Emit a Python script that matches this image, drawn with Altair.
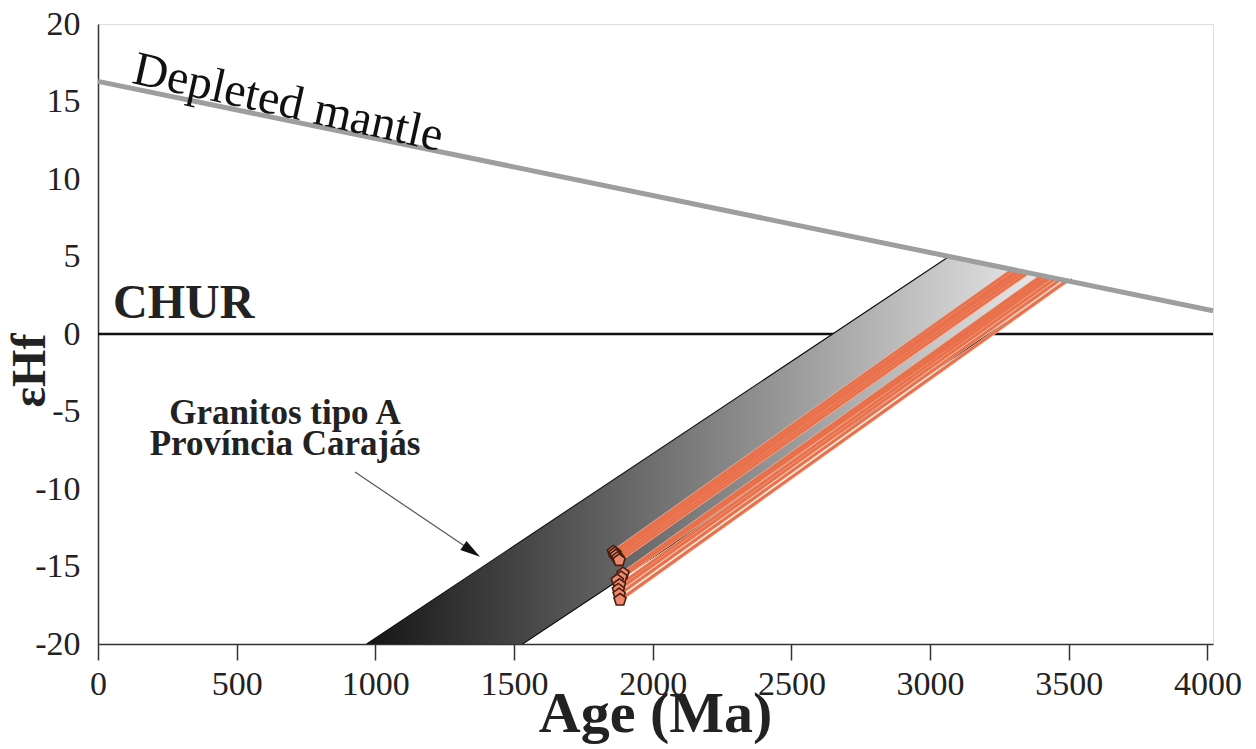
import altair as alt
import pandas as pd

# ---------------- data ----------------
# Depleted mantle evolution line
dm_age = [0, 4020]
dm_ehf = [16.3, 1.5]

# CHUR reference line
chur_age = [0, 4020]
chur_ehf = [0, 0]

# Envelope of A-type granites, Carajás Province (gradient band)
band_age = [968.6, 1531, 3064, 3511]
band_upper = [-20, -13.33, 4.95, 3.55]
band_lower = [-20, -20, -1.87, 3.55]

# Band outline edges
edge_id = ["upper", "upper", "lower", "lower"]
edge_age = [968.6, 3064, 1531, 3511]
edge_ehf = [-20, 4.95, -20, 3.55]

# Zircon samples: measured eHf(t) and model-age projection to depleted mantle
sample_id = ["U1", "U2", "U3", "U4", "U5", "L1", "L2", "L3", "L4", "L5", "L6", "L7"]
sample_age = [1858, 1864, 1868, 1874, 1879, 1893, 1886, 1872, 1880, 1876, 1879, 1882]
sample_ehf = [-14.05, -14.15, -14.3, -14.45, -14.6, -15.45, -15.7, -15.9, -16.2, -16.5, -16.8, -17.15]
tdm_age = [3298, 3313, 3324, 3338, 3353, 3403, 3412, 3425, 3436, 3452, 3470, 3493]
tdm_ehf = [4.16, 4.1, 4.06, 4.01, 3.96, 3.77, 3.74, 3.69, 3.65, 3.59, 3.53, 3.44]

# Tick values
x_ticks = [0, 500, 1000, 1500, 2000, 2500, 3000, 3500, 4000]
y_ticks = [-20, -15, -10, -5, 0, 5, 10, 15, 20]

# Annotations
dm_label = "Depleted mantle"
chur_label = "CHUR"
granite_line1 = "Granitos tipo A"
granite_line2 = "Província Carajás"

# ---------------- tables built from the arrays ----------------
dm_df = pd.DataFrame({"age": dm_age, "ehf": dm_ehf})
chur_df = pd.DataFrame({"age": chur_age, "ehf": chur_ehf})
band_df = pd.DataFrame({"age": band_age, "upper": band_upper, "lower": band_lower})
edge_df = pd.DataFrame({"edge": edge_id, "age": edge_age, "ehf": edge_ehf})

rows = []
for sid, a0, e0, a1, e1 in zip(sample_id, sample_age, sample_ehf, tdm_age, tdm_ehf):
    rows.append({"id": sid, "age": a0, "ehf": e0, "o": 0})
    rows.append({"id": sid, "age": a1, "ehf": e1, "o": 1})
lines_df = pd.DataFrame(rows)
pts_df = pd.DataFrame({"id": sample_id, "age": sample_age, "ehf": sample_ehf})

FONT = "Liberation Serif"
xs = alt.Scale(domain=[0, 4020], nice=False, zero=False)
ys = alt.Scale(domain=[-20, 20], nice=False, zero=False)

x_axis = alt.Axis(
    values=x_ticks, title="Age (Ma)", grid=False, labelFlush=False,
    labelExpr="'' + datum.value",
    labelFont=FONT, labelFontSize=34, labelColor="#222", labelPadding=7,
    tickSize=16, tickColor="#333", tickWidth=1.5,
    domainColor="#333", domainWidth=1.5,
    titleFont=FONT, titleFontSize=58, titleFontWeight="bold", titleColor="#222",
    titleX=557, titleY=87, titleAlign="center", titleBaseline="alphabetic",
)
y_axis = alt.Axis(
    values=y_ticks, title="εHf", grid=False, labelFlush=False, ticks=False,
    labelExpr="'' + datum.value",
    labelFont=FONT, labelFontSize=34, labelColor="#222", labelPadding=18,
    domainColor="#333", domainWidth=1.5,
    titleFont=FONT, titleFontSize=48, titleFontWeight="bold", titleColor="#222",
    titleAngle=270, titleX=-68, titleY=346, titleAlign="center", titleBaseline="middle",
)

X = lambda: alt.X("age:Q", scale=xs, axis=x_axis)
Y = lambda: alt.Y("ehf:Q", scale=ys, axis=y_axis)

chur = alt.Chart(chur_df).mark_line(color="#111", strokeWidth=2.5).encode(x=X(), y=Y())

gradient = {
    "gradient": "linear", "x1": 0, "x2": 1, "y1": 0, "y2": 0,
    "stops": [{"offset": 0, "color": "#151515"}, {"offset": 1, "color": "#f2f2f2"}],
}
band = alt.Chart(band_df).mark_area(color=gradient).encode(
    x=alt.X("age:Q", scale=xs, axis=x_axis),
    y=alt.Y("upper:Q", scale=ys, axis=y_axis),
    y2="lower:Q",
)
edges = alt.Chart(edge_df).mark_line(color="#111", strokeWidth=1.2).encode(
    x=X(), y=Y(), detail="edge:N"
)

red_under = alt.Chart(lines_df).mark_line(color="#f4b59c", strokeWidth=4).encode(
    x=X(), y=Y(), detail="id:N", order="o:Q"
)
red = alt.Chart(lines_df).mark_line(color="#e8704b", strokeWidth=2.8).encode(
    x=X(), y=Y(), detail="id:N", order="o:Q"
)

dm = alt.Chart(dm_df).mark_line(color="#9e9e9e", strokeWidth=5).encode(x=X(), y=Y())

pentagon = "M0,-1 L0.951,-0.309 L0.588,0.809 L-0.588,0.809 L-0.951,-0.309 Z"
pts = alt.Chart(pts_df).mark_point(
    shape=pentagon, filled=True, fill="#ee8a6c", stroke="#4a1e12", strokeWidth=1.6,
    size=160, opacity=1,
).encode(x=X(), y=Y())

# Text annotations (pixel anchors inside the plot area)
dm_txt = alt.Chart(pd.DataFrame({"t": [dm_label]})).mark_text(
    font=FONT, fontSize=48, angle=12.5, align="center", baseline="alphabetic", color="#111"
).encode(x=alt.value(187), y=alt.value(93), text="t:N")

chur_txt = alt.Chart(pd.DataFrame({"t": [chur_label]})).mark_text(
    font=FONT, fontSize=48, fontWeight="bold", align="left", baseline="alphabetic", color="#222"
).encode(x=alt.value(15), y=alt.value(294), text="t:N")

gran1 = alt.Chart(pd.DataFrame({"t": [granite_line1]})).mark_text(
    font=FONT, fontSize=35, fontWeight="bold", align="center", baseline="alphabetic", color="#222"
).encode(x=alt.value(187), y=alt.value(400), text="t:N")
gran2 = alt.Chart(pd.DataFrame({"t": [granite_line2]})).mark_text(
    font=FONT, fontSize=35, fontWeight="bold", align="center", baseline="alphabetic", color="#222"
).encode(x=alt.value(187), y=alt.value(431), text="t:N")

arrow = alt.Chart(pd.DataFrame({"a": [0]})).mark_rule(color="#555", strokeWidth=1.2).encode(
    x=alt.value(257), y=alt.value(448), x2=alt.value(374), y2=alt.value(527)
)
arrow_head = "M0,0 L-2,-0.55 L-2,0.55 Z"
head = alt.Chart(pd.DataFrame({"a": [0]})).mark_point(
    shape=arrow_head, filled=True, color="#111", size=400, angle=34, opacity=1
).encode(x=alt.value(382), y=alt.value(532.7))

chart = alt.layer(
    chur, band, edges, red_under, red, dm, pts, dm_txt, chur_txt, gran1, gran2, arrow, head
).properties(
    width=1115, height=620,
    padding={"left": 90, "top": 16, "right": 35, "bottom": 104},
    autosize=alt.AutoSizeParams(type="none"),
).configure_view(stroke="#333", strokeWidth=1.5).configure(font=FONT, background="white")

chart.save("out.html", embed_options={"renderer": "svg", "actions": False})
